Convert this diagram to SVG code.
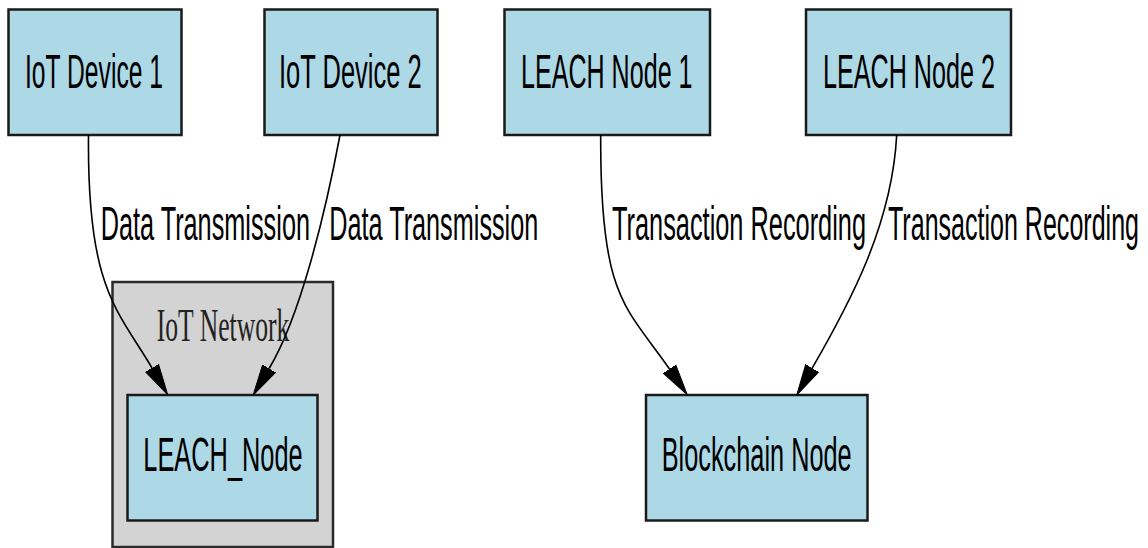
<svg xmlns="http://www.w3.org/2000/svg" width="1148" height="548" viewBox="0 0 1148 548">
  <defs>
    <style>
      .node rect { fill: #add8e6; stroke: #1a1a1a; stroke-width: 2.5; }
      .node text { font-family: "Liberation Sans", Arial, sans-serif; font-size: 49px; fill: #000; }
      .cluster rect { fill: #d3d3d3; stroke: #2a2a2a; stroke-width: 2.5; }
      .cluster text { font-family: "Liberation Serif", "Times New Roman", serif; font-size: 47px; fill: #222; }
      .edge path { fill: none; stroke: #000; stroke-width: 1.6; }
      .elabel { font-family: "Liberation Sans", Arial, sans-serif; font-size: 48px; fill: #000; }
    </style>
    <marker id="arrow" markerUnits="userSpaceOnUse" viewBox="0 -9 32 18" refX="0" refY="0" markerWidth="32" markerHeight="18" orient="auto">
      <path d="M0,-7.5 L31,0 L0,7.5 Z" fill="#000" stroke="#000" stroke-width="1"/>
    </marker>
  </defs>

  <g id="cluster_iot_network" class="cluster">
    <rect x="112.5" y="282" width="220.5" height="265"/>
    <text x="156.7" y="340.5" textLength="132.6" lengthAdjust="spacingAndGlyphs">IoT Network</text>
  </g>

  <g id="node_iot_device_1" class="node">
    <rect x="8.5" y="9.5" width="173" height="125.5"/>
    <text x="25" y="88" textLength="138" lengthAdjust="spacingAndGlyphs">IoT Device 1</text>
  </g>
  <g id="node_iot_device_2" class="node">
    <rect x="264.5" y="9.5" width="173" height="125.5"/>
    <text x="279" y="88" textLength="142.7" lengthAdjust="spacingAndGlyphs">IoT Device 2</text>
  </g>
  <g id="node_leach_node_1" class="node">
    <rect x="504.5" y="9.5" width="205.5" height="125.5"/>
    <text x="521" y="88" textLength="171.5" lengthAdjust="spacingAndGlyphs">LEACH Node 1</text>
  </g>
  <g id="node_leach_node_2" class="node">
    <rect x="806" y="9.5" width="205" height="125.5"/>
    <text x="823" y="88" textLength="172" lengthAdjust="spacingAndGlyphs">LEACH Node 2</text>
  </g>
  <g id="node_leach_node" class="node">
    <rect x="127.5" y="395" width="190" height="125.5"/>
    <text x="143.3" y="471" textLength="159.4" lengthAdjust="spacingAndGlyphs">LEACH_Node</text>
  </g>
  <g id="node_blockchain_node" class="node">
    <rect x="646" y="395" width="221.5" height="125.5"/>
    <text x="661.7" y="471" textLength="190" lengthAdjust="spacingAndGlyphs">Blockchain Node</text>
  </g>

  <g id="connectors" class="edge">
    <path d="M88.5,135 C87,290 118,310 152,368" marker-end="url(#arrow)"/>
    <path d="M340,135 C325,215 300,317 269.1,368.5" marker-end="url(#arrow)"/>
    <path d="M600.7,135 C600,300 626,306 669.5,369" marker-end="url(#arrow)"/>
    <path d="M896.7,135 C892,225 849.6,303.3 812.2,368.2" marker-end="url(#arrow)"/>
    <text class="elabel" x="100.7" y="240" textLength="209.3" lengthAdjust="spacingAndGlyphs">Data Transmission</text>
    <text class="elabel" x="329.3" y="240" textLength="209" lengthAdjust="spacingAndGlyphs">Data Transmission</text>
    <text class="elabel" x="612" y="240" textLength="254" lengthAdjust="spacingAndGlyphs">Transaction Recording</text>
    <text class="elabel" x="888" y="240" textLength="251" lengthAdjust="spacingAndGlyphs">Transaction Recording</text>
  </g>
</svg>
